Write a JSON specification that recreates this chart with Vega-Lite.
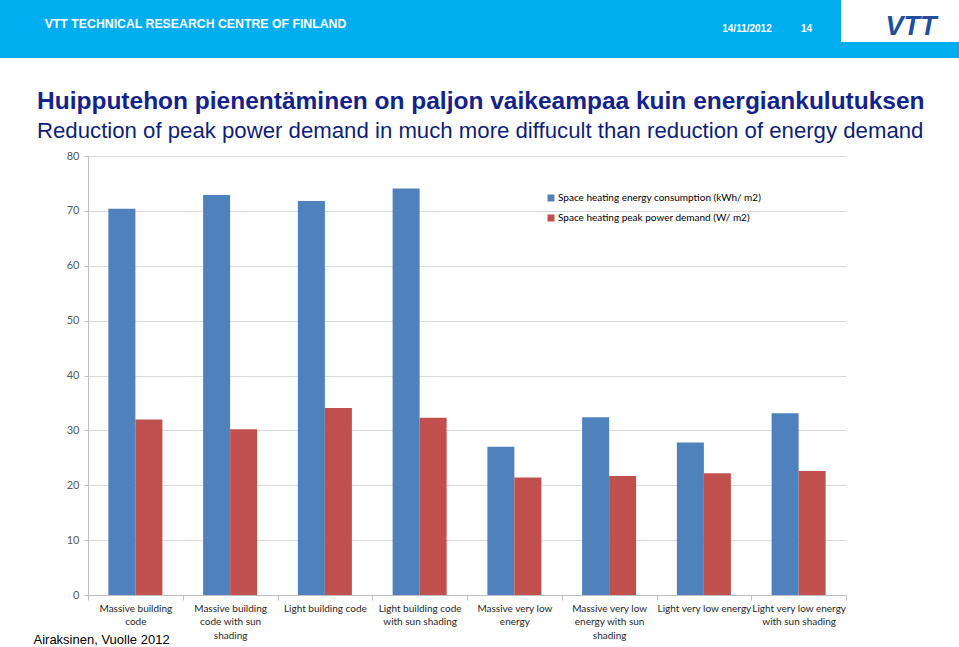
{
  "$schema": "https://vega.github.io/schema/vega-lite/v6.json",
  "padding": 0,
  "background": "#ffffff",
  "config": {"view": {"stroke": null}, "font": "Liberation Sans"},
  "spacing": 31,
  "resolve": {"scale": {"color": "independent"}, "legend": {"color": "independent"}},
  "vconcat": [
    {
      "spacing": 0,
      "vconcat": [
        {
          "spacing": 0,
          "hconcat": [
            {
              "spacing": 0,
              "vconcat": [
                {
                  "width": 391, "height": 6,
                  "view": {"fill": "#00AEEF"},
                  "data": {"values": []},
                  "mark": {"type": "text"},
                  "encoding": {"text": {"field": "t"}}
                },
                {
                  "width": 391, "height": 36,
                  "view": {"fill": "#00AEEF"},
                  "data": {"values": [{"t": "VTT TECHNICAL RESEARCH CENTRE OF FINLAND"}]},
                  "mark": {"type": "text", "font": "Liberation Sans", "fontWeight": "bold", "fontSize": 12.3, "color": "#ffffff", "baseline": "middle"},
                  "encoding": {"text": {"field": "t"}}
                }
              ]
            },
            {
              "width": 331, "height": 42,
              "view": {"fill": "#00AEEF"},
              "data": {"values": []},
              "mark": {"type": "text"},
              "encoding": {"text": {"field": "t"}}
            },
            {
              "spacing": 0,
              "vconcat": [
                {
                  "width": 50, "height": 16,
                  "view": {"fill": "#00AEEF"},
                  "data": {"values": []},
                  "mark": {"type": "text"},
                  "encoding": {"text": {"field": "t"}}
                },
                {
                  "width": 50, "height": 26,
                  "view": {"fill": "#00AEEF"},
                  "data": {"values": [{"t": "14/11/2012"}]},
                  "mark": {"type": "text", "font": "Liberation Sans", "fontWeight": "bold", "fontSize": 10, "color": "#ffffff", "baseline": "middle"},
                  "encoding": {"text": {"field": "t"}}
                }
              ]
            },
            {
              "spacing": 0,
              "vconcat": [
                {
                  "width": 69, "height": 16,
                  "view": {"fill": "#00AEEF"},
                  "data": {"values": []},
                  "mark": {"type": "text"},
                  "encoding": {"text": {"field": "t"}}
                },
                {
                  "width": 69, "height": 26,
                  "view": {"fill": "#00AEEF"},
                  "data": {"values": [{"t": "14"}]},
                  "mark": {"type": "text", "font": "Liberation Sans", "fontWeight": "bold", "fontSize": 10, "color": "#ffffff", "baseline": "middle"},
                  "encoding": {"text": {"field": "t"}}
                }
              ]
            },
            {
              "width": 22, "height": 42,
              "view": {"fill": "#ffffff"},
              "data": {"values": []},
              "mark": {"type": "text"},
              "encoding": {"text": {"field": "t"}}
            },
            {
              "spacing": 0,
              "vconcat": [
                {
                  "width": 96, "height": 11,
                  "view": {"fill": "#ffffff"},
                  "data": {"values": []},
                  "mark": {"type": "text"},
                  "encoding": {"text": {"field": "t"}}
                },
                {
                  "width": 96, "height": 31,
                  "view": {"fill": "#ffffff"},
                  "data": {"values": [{"t": "VTT"}]},
                  "mark": {"type": "text", "font": "Liberation Sans", "fontWeight": "bold", "fontStyle": "italic", "fontSize": 27, "color": "#1E4E9C", "baseline": "middle"},
                  "encoding": {"text": {"field": "t"}}
                }
              ]
            }
          ]
        },
        {
          "width": 959, "height": 16,
          "view": {"fill": "#00AEEF"},
          "data": {"values": []},
          "mark": {"type": "text"},
          "encoding": {"text": {"field": "t"}}
        }
      ]
    },
    {
      "spacing": 0,
      "resolve": {"scale": {"color": "independent"}, "legend": {"color": "independent"}},
      "hconcat": [
        {
          "width": 28, "height": 439,
          "data": {"values": []},
          "mark": {"type": "text"},
          "encoding": {"text": {"field": "t"}}
        },
        {
          "width": 758,
          "height": 439,
          "title": {
            "text": "Huipputehon pienentäminen on paljon vaikeampaa kuin energiankulutuksen",
            "subtitle": "Reduction of peak power demand in much more diffucult than reduction of energy demand",
            "anchor": "start",
            "frame": "bounds",
            "dx": 9,
            "font": "Liberation Sans",
            "fontSize": 24.5,
            "fontWeight": "bold",
            "color": "#13238A",
            "subtitleFont": "Liberation Sans",
            "subtitleFontSize": 22.2,
            "subtitleColor": "#0F1F75",
            "subtitlePadding": 5,
            "offset": 7
          },
          "data": {
            "values": [
              {"scenario": "Massive building|code", "measure": "Space heating energy consumption (kWh/ m2)", "value": 70.4},
              {"scenario": "Massive building|code", "measure": "Space heating peak power demand (W/ m2)", "value": 32.0},
              {"scenario": "Massive building|code with sun|shading", "measure": "Space heating energy consumption (kWh/ m2)", "value": 72.9},
              {"scenario": "Massive building|code with sun|shading", "measure": "Space heating peak power demand (W/ m2)", "value": 30.2},
              {"scenario": "Light building code", "measure": "Space heating energy consumption (kWh/ m2)", "value": 71.8},
              {"scenario": "Light building code", "measure": "Space heating peak power demand (W/ m2)", "value": 34.1},
              {"scenario": "Light building code|with sun shading", "measure": "Space heating energy consumption (kWh/ m2)", "value": 74.1},
              {"scenario": "Light building code|with sun shading", "measure": "Space heating peak power demand (W/ m2)", "value": 32.3},
              {"scenario": "Massive very low|energy", "measure": "Space heating energy consumption (kWh/ m2)", "value": 27.0},
              {"scenario": "Massive very low|energy", "measure": "Space heating peak power demand (W/ m2)", "value": 21.4},
              {"scenario": "Massive very low|energy with sun|shading", "measure": "Space heating energy consumption (kWh/ m2)", "value": 32.4},
              {"scenario": "Massive very low|energy with sun|shading", "measure": "Space heating peak power demand (W/ m2)", "value": 21.7},
              {"scenario": "Light very low energy", "measure": "Space heating energy consumption (kWh/ m2)", "value": 27.8},
              {"scenario": "Light very low energy", "measure": "Space heating peak power demand (W/ m2)", "value": 22.2},
              {"scenario": "Light very low energy|with sun shading", "measure": "Space heating energy consumption (kWh/ m2)", "value": 33.1},
              {"scenario": "Light very low energy|with sun shading", "measure": "Space heating peak power demand (W/ m2)", "value": 22.6}
            ]
          },
          "mark": {"type": "bar"},
          "encoding": {
            "x": {
              "field": "scenario",
              "type": "nominal",
              "sort": null,
              "scale": {"paddingInner": 0, "paddingOuter": 0},
              "axis": {
                "title": "Airaksinen, Vuolle 2012",
                "titleFont": "Liberation Sans",
                "titleFontSize": 13,
                "titleFontWeight": "normal",
                "titleColor": "#000000",
                "titleX": -55,
                "titleY": 44,
                "titleAlign": "left",
                "titleBaseline": "middle",
                "labelAngle": 0,
                "labelExpr": "split(datum.label, '|')",
                "labelFont": "Lato",
                "labelFontSize": 10,
                "labelColor": "#262626",
                "labelLineHeight": 13.5,
                "labelBaseline": "top",
                "labelPadding": 3,
                "labelLimit": 300,
                "tickBand": "extent",
                "tickSize": 5,
                "tickColor": "#BFBFBF",
                "domainColor": "#BFBFBF",
                "grid": false
              }
            },
            "xOffset": {
              "field": "measure",
              "type": "nominal",
              "sort": ["Space heating energy consumption (kWh/ m2)", "Space heating peak power demand (W/ m2)"],
              "scale": {"paddingInner": 0, "paddingOuter": 0.754}
            },
            "y": {
              "field": "value",
              "type": "quantitative",
              "scale": {"domain": [0, 80]},
              "axis": {
                "title": null,
                "values": [0, 10, 20, 30, 40, 50, 60, 70, 80],
                "labelFont": "Lato",
                "labelFontSize": 11,
                "labelColor": "#595959",
                "labelPadding": 5,
                "tickSize": 4,
                "tickColor": "#BFBFBF",
                "domainColor": "#BFBFBF",
                "gridColor": "#D9D9D9",
                "minExtent": 60
              }
            },
            "color": {
              "field": "measure",
              "type": "nominal",
              "scale": {
                "domain": ["Space heating energy consumption (kWh/ m2)", "Space heating peak power demand (W/ m2)"],
                "range": ["#4F81BD", "#C0504D"]
              },
              "legend": {
                "orient": "none",
                "legendX": 458,
                "legendY": 37,
                "title": null,
                "padding": 0,
                "symbolType": "square",
                "symbolSize": 49,
                "symbolStrokeWidth": 0,
                "labelFont": "Lato",
                "labelFontSize": 10,
                "labelColor": "#000000",
                "labelOffset": 2,
                "rowPadding": 10,
                "labelLimit": 300
              }
            }
          }
        }
      ]
    }
  ]
}
